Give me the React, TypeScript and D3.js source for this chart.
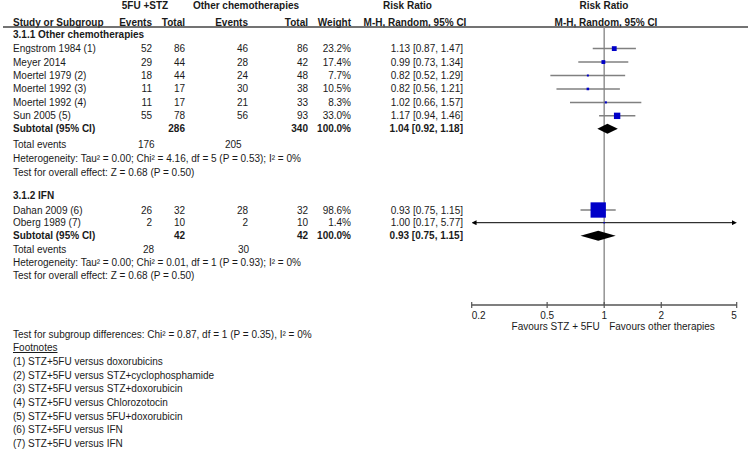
import React from "react";
import * as d3 from "d3";

// ---------- data ----------
const studies = ["Engstrom 1984 (1)", "Meyer 2014", "Moertel 1979 (2)", "Moertel 1992 (3)", "Moertel 1992 (4)", "Sun 2005 (5)", "Dahan 2009 (6)", "Oberg 1989 (7)"];
const studyGroup = [0, 0, 0, 0, 0, 0, 1, 1];
const eventsExp = [52, 29, 18, 11, 11, 55, 26, 2];
const totalExp = [86, 44, 44, 17, 17, 78, 32, 10];
const eventsCtrl = [46, 28, 24, 30, 21, 56, 28, 2];
const totalCtrl = [86, 42, 48, 38, 33, 93, 32, 10];
const weights = [23.2, 17.4, 7.7, 10.5, 8.3, 33.0, 98.6, 1.4];
const rr = [1.13, 0.99, 0.82, 0.82, 1.02, 1.17, 0.93, 1.0];
const ciLow = [0.87, 0.73, 0.52, 0.56, 0.66, 0.94, 0.75, 0.17];
const ciHigh = [1.47, 1.34, 1.29, 1.21, 1.57, 1.46, 1.15, 5.77];

const groupNames = ["3.1.1 Other chemotherapies", "3.1.2 IFN"];
const subTotalExp = [286, 42];
const subTotalCtrl = [340, 42];
const subRR = [1.04, 0.93];
const subLow = [0.92, 0.75];
const subHigh = [1.18, 1.15];
const totalEventsExp = [176, 28];
const totalEventsCtrl = [205, 30];
const heterogeneity = [
  "Heterogeneity: Tau² = 0.00; Chi² = 4.16, df = 5 (P = 0.53); I² = 0%",
  "Heterogeneity: Tau² = 0.00; Chi² = 0.01, df = 1 (P = 0.93); I² = 0%",
];
const overallEffect = ["Test for overall effect: Z = 0.68 (P = 0.50)", "Test for overall effect: Z = 0.68 (P = 0.50)"];

const axisTicks = [0.2, 0.5, 1, 2, 5];
const subgroupTest = "Test for subgroup differences: Chi² = 0.87, df = 1 (P = 0.35), I² = 0%";
const footnotes = [
  "(1) STZ+5FU versus doxorubicins",
  "(2) STZ+5FU versus STZ+cyclophosphamide",
  "(3) STZ+5FU versus STZ+doxorubicin",
  "(4) STZ+5FU versus Chlorozotocin",
  "(5) STZ+5FU versus 5FU+doxorubicin",
  "(6) STZ+5FU versus IFN",
  "(7) STZ+5FU versus IFN",
];

// ---------- layout ----------
const W = 750;
const H = 453;
const FONT = "'Liberation Sans', Arial, Helvetica, sans-serif";
const groupLayout = [
  { header: 34.5, firstGap: 14.1, step: 13.45, subGap: 12.4, teGap: 16.5, hetGap: 13.5, testGap: 14 },
  { header: 195.7, firstGap: 14.3, step: 12.7, subGap: 12.6, teGap: 14, hetGap: 13, testGap: 13.4 },
];

const x = d3.scaleLog().domain([0.2, 5]).range([471.7, 736.7]);
const boxSide = d3.scalePow().exponent(0.8).domain([0, 100]).range([0, 15.5]);
const fmt2 = d3.format(".2f");

const col = { study: 13, evA: 152, totA: 185, evB: 248, totB: 308, weight: 351, ci: 463 };
const axisY = 305;

function T(props: any) {
  const { x, y, children, anchor = "start", bold = false, ...rest } = props;
  return (
    <text x={x} y={y} dy="0.35em" textAnchor={anchor} fontWeight={bold ? "bold" : "normal"} {...rest}>
      {children}
    </text>
  );
}

export default function App() {
  // compute row positions
  const rows: any[] = [];
  groupNames.forEach((g, gi) => {
    const L = groupLayout[gi];
    const idx = studies.map((_, i) => i).filter((i) => studyGroup[i] === gi);
    let y = L.header + L.firstGap;
    const studyRows = idx.map((i, k) => ({ i, y: y + k * L.step }));
    const last = studyRows[studyRows.length - 1].y;
    const sub = last + L.subGap;
    const te = sub + L.teGap;
    const het = te + L.hetGap;
    const test = het + L.testGap;
    rows.push({ gi, header: L.header, studyRows, sub, te, het, test });
  });

  const vTop = 27.5;

  return (
    <svg width={W} height={H} style={{ position: "absolute", left: 0, top: 0, background: "#fff" }} fontFamily={FONT} fontSize={10} fill="#1a1a1a">
      <defs>
        <marker id="arrL" viewBox="0 0 6 6" refX="1" refY="3" markerWidth="5" markerHeight="5" orient="auto-start-reverse">
          <path d="M0,0 L6,3 L0,6 z" fill="#000" />
        </marker>
      </defs>
      <rect width={W} height={H} fill="#fff" />
      {/* headers */}
      <T x={145} y={5.7} anchor="middle" bold>5FU +STZ</T>
      <T x={246} y={5.7} anchor="middle" bold>Other chemotherapies</T>
      <T x={407.5} y={5.7} anchor="middle" bold>Risk Ratio</T>
      <T x={604} y={5.7} anchor="middle" bold>Risk Ratio</T>
      <T x={col.study} y={22} bold>Study or Subgroup</T>
      <T x={col.evA} y={22} anchor="end" bold>Events</T>
      <T x={col.totA} y={22} anchor="end" bold>Total</T>
      <T x={col.evB} y={22} anchor="end" bold>Events</T>
      <T x={col.totB} y={22} anchor="end" bold>Total</T>
      <T x={col.weight} y={22} anchor="end" bold>Weight</T>
      <T x={415} y={22} anchor="middle" bold>M-H, Random, 95% CI</T>
      <T x={606} y={22} anchor="middle" bold>M-H, Random, 95% CI</T>
      <line x1={3} x2={748} y1={27} y2={27} stroke="#444" strokeWidth={1.3} />

      {/* null line */}
      <line x1={x(1)} x2={x(1)} y1={vTop} y2={axisY} stroke="#999" strokeWidth={1.6} />

      {rows.map((r) => (
        <g key={r.gi}>
          <T x={col.study} y={r.header} bold>{groupNames[r.gi]}</T>
          {r.studyRows.map(({ i, y }: any) => {
            const lo = Math.max(ciLow[i], 0.2);
            const hi = Math.min(ciHigh[i], 5);
            const clipped = ciLow[i] < 0.2 || ciHigh[i] > 5;
            const s = Math.max(1.4, boxSide(weights[i]));
            return (
              <g key={i}>
                <T x={col.study} y={y}>{studies[i]}</T>
                <T x={col.evA} y={y} anchor="end">{eventsExp[i]}</T>
                <T x={col.totA} y={y} anchor="end">{totalExp[i]}</T>
                <T x={col.evB} y={y} anchor="end">{eventsCtrl[i]}</T>
                <T x={col.totB} y={y} anchor="end">{totalCtrl[i]}</T>
                <T x={col.weight} y={y} anchor="end">{weights[i].toFixed(1)}%</T>
                <T x={col.ci} y={y} anchor="end">{`${fmt2(rr[i])} [${fmt2(ciLow[i])}, ${fmt2(ciHigh[i])}]`}</T>
                {clipped ? (
                  <line x1={x(lo) + 4} x2={x(hi) - 4} y1={y} y2={y} stroke="#000" strokeWidth={1}
                    markerStart={ciLow[i] < 0.2 ? "url(#arrL)" : undefined}
                    markerEnd={ciHigh[i] > 5 ? "url(#arrL)" : undefined} />
                ) : (
                  <line x1={x(lo)} x2={x(hi)} y1={y} y2={y} stroke="#808080" strokeWidth={1.5} />
                )}
                <rect x={x(rr[i]) - s / 2} y={y - s / 2} width={s} height={s} fill="#0000c8" />
              </g>
            );
          })}
          <T x={col.study} y={r.sub} bold>Subtotal (95% CI)</T>
          <T x={col.totA} y={r.sub} anchor="end" bold>{subTotalExp[r.gi]}</T>
          <T x={col.totB} y={r.sub} anchor="end" bold>{subTotalCtrl[r.gi]}</T>
          <T x={col.weight} y={r.sub} anchor="end" bold>100.0%</T>
          <T x={col.ci} y={r.sub} anchor="end" bold>{`${fmt2(subRR[r.gi])} [${fmt2(subLow[r.gi])}, ${fmt2(subHigh[r.gi])}]`}</T>
          <path
            d={`M${x(subLow[r.gi])},${r.sub + 0.5} L${x(subRR[r.gi])},${r.sub - 4.5} L${x(subHigh[r.gi])},${r.sub + 0.5} L${x(subRR[r.gi])},${r.sub + 5.5} Z`}
            fill="#000"
          />
          <T x={col.study} y={r.te}>Total events</T>
          <T x={r.gi === 0 ? 138 : 143} y={r.te}>{totalEventsExp[r.gi]}</T>
          <T x={r.gi === 0 ? 225 : 238} y={r.te}>{totalEventsCtrl[r.gi]}</T>
          <T x={col.study} y={r.het}>{heterogeneity[r.gi]}</T>
          <T x={col.study} y={r.test}>{overallEffect[r.gi]}</T>
        </g>
      ))}

      {/* axis */}
      <line x1={x(0.2)} x2={x(5)} y1={axisY} y2={axisY} stroke="#555" strokeWidth={1.5} />
      {axisTicks.map((t, k) => (
        <g key={t}>
          <line x1={x(t)} x2={x(t)} y1={axisY - 3} y2={axisY + 3} stroke="#555" strokeWidth={1.2} />
          <T x={x(t)} y={315} anchor={k === 0 ? "start" : k === axisTicks.length - 1 ? "end" : "middle"}>
            {String(t)}
          </T>
        </g>
      ))}
      <T x={x(1) - 4.5} y={326} anchor="end">Favours STZ + 5FU</T>
      <T x={x(1) + 5} y={326}>Favours other therapies</T>

      {/* footer */}
      <T x={col.study} y={334.3}>{subgroupTest}</T>
      <T x={col.study} y={347.5} textDecoration="underline">Footnotes</T>
      {footnotes.map((f, k) => (
        <T key={k} x={col.study} y={361.3 + k * 13.7}>{f}</T>
      ))}
    </svg>
  );
}
